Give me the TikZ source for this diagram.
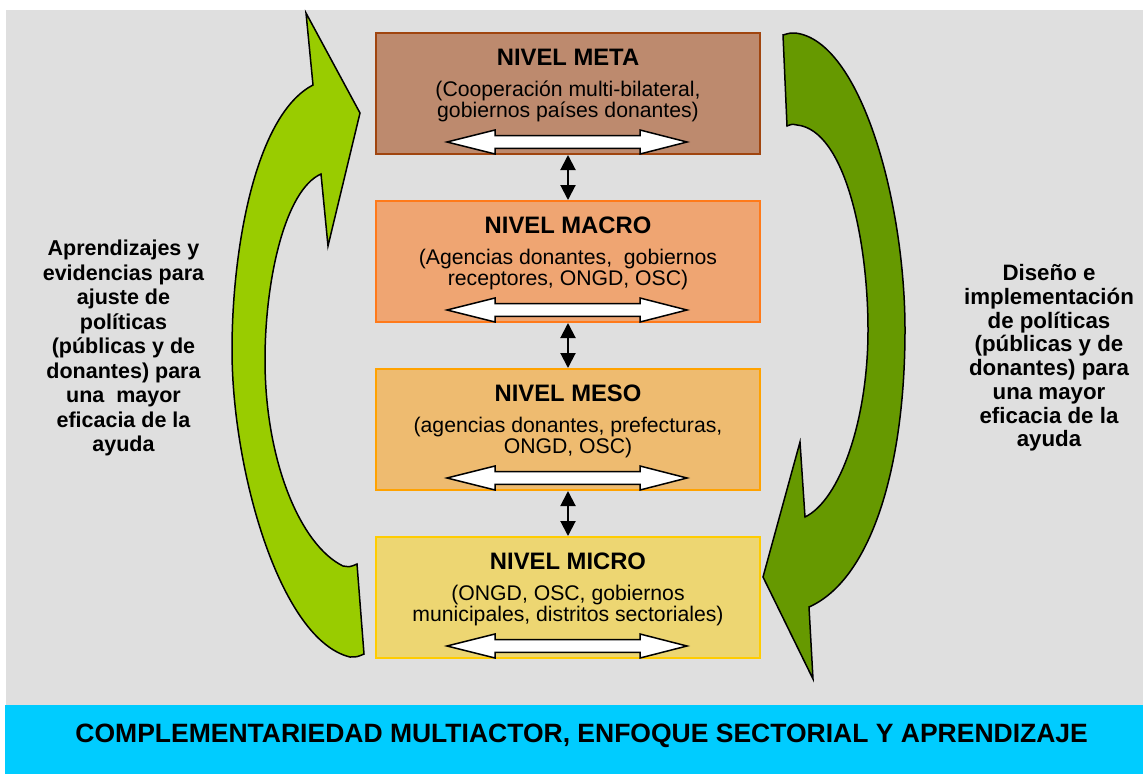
\documentclass[tikz,border=0pt]{standalone}
\usepackage{fontspec}
\setmainfont{Liberation Sans}
\usetikzlibrary{arrows.meta}
\definecolor{bggray}{HTML}{DFDFDF}
\definecolor{bandcyan}{HTML}{00CCFF}
\definecolor{lgreen}{HTML}{99CC00}
\definecolor{dgreen}{HTML}{669900}
\definecolor{metafill}{HTML}{BD8A6E}
\definecolor{metaline}{HTML}{A0450F}
\definecolor{macrofill}{HTML}{EFA572}
\definecolor{macroline}{HTML}{FF7A1A}
\definecolor{mesofill}{HTML}{EEBB70}
\definecolor{mesoline}{HTML}{FFA200}
\definecolor{microfill}{HTML}{EDD672}
\definecolor{microline}{HTML}{FFCC00}
\newcommand{\myfs}[2]{\fontsize{#1}{#2}\selectfont}
\begin{document}
\begin{tikzpicture}[x=1pt,y=-1pt,
  levelbox/.style={draw=#1line,fill=#1fill,line width=2pt,minimum width=384pt,minimum height=121pt,inner sep=0pt},
  ttl/.style={anchor=base,inner sep=0pt,font=\myfs{23.8}{26}\bfseries},
  desc/.style={anchor=base,inner sep=0pt,align=center,font=\myfs{21.2}{20.8}},
  side/.style={anchor=base,inner sep=0pt,align=center,font=\myfs{21.5}{24.5}\bfseries},
  whitearrow/.style={draw=black,fill=white,line width=1.5pt,line join=miter},
  vlink/.style={line width=2pt,{Triangle[length=15pt,width=15pt]}-{Triangle[length=15pt,width=15pt]}},
  bigarrow/.style={draw=black,line width=1.5pt,line join=miter}
]
\useasboundingbox (0,0) rectangle (1143,774);
\fill[white] (0,0) rectangle (1143,774);
\fill[bggray] (6,10) rectangle (1143,705);
\node[fill=bandcyan,minimum width=1138pt,minimum height=69pt,inner sep=0pt] (band) at (574,739.5) {};
\node[anchor=base,inner sep=0pt,font=\myfs{26.5}{30}\bfseries] (bandtext) at (581.7,742.3) {COMPLEMENTARIEDAD MULTIACTOR, ENFOQUE SECTORIAL Y APRENDIZAJE};

% left light green curved arrow
\draw[bigarrow,fill=lgreen] (313,85) -- (306,13) -- (360,113) -- (328,246) -- (321,174)
  .. controls (285,190) and (265,280) .. (265,360)
  .. controls (265,460) and (300,545) .. (343,566)
  .. controls (350,567) .. (357,564)
  -- (364,654)
  .. controls (357,657) .. (350,657)
  .. controls (280,640) and (232,470) .. (232,350)
  .. controls (232,250) and (255,115) .. (313,85) -- cycle;

% right dark green curved arrow
\draw[bigarrow,fill=dgreen] (783,35) -- (787,126)
  .. controls (792,124) .. (797,125)
  .. controls (845,130) and (868,240) .. (868,330)
  .. controls (868,420) and (840,500) .. (805,517)
  -- (800,442) -- (763,577) -- (813,679) -- (809,607)
  .. controls (870,580) and (905,470) .. (905,330)
  .. controls (905,200) and (860,40) .. (795,33)
  .. controls (790,33) .. (783,35) -- cycle;

% level boxes
\node[levelbox=meta]  (meta)  at (568,93.5)  {};
\node[levelbox=macro] (macro) at (568,261.5) {};
\node[levelbox=meso]  (meso)  at (568,429.5) {};
\node[levelbox=micro] (micro) at (568,597.5) {};

% texts (multi-line nodes: base = last line)
\node[ttl]  (metat)  at (568,65.5)  {NIVEL META};
\node[desc] (metad)  at (568,117)   {(Cooperación multi-bilateral,\\gobiernos países donantes)};
\node[ttl]  (macrot) at (568,233.5) {NIVEL MACRO};
\node[desc] (macrod) at (568,285)   {(Agencias donantes,\ \ gobiernos\\receptores, ONGD, OSC)};
\node[ttl]  (mesot)  at (568,401.5) {NIVEL MESO};
\node[desc] (mesod)  at (568,453)   {(agencias donantes, prefecturas,\\ONGD, OSC)};
\node[ttl]  (microt) at (568,569.5) {NIVEL MICRO};
\node[desc] (microd) at (568,621)   {(ONGD, OSC, gobiernos\\municipales, distritos sectoriales)};

% white double arrows inside boxes
\foreach \yy in {142,310,478,646}{
  \draw[whitearrow,shift={(0,\yy)}] (447,0) -- (495,-12) -- (495,-6.3) -- (640,-6.3) -- (640,-12) -- (687,0)
    -- (640,12) -- (640,6.3) -- (495,6.3) -- (495,12) -- cycle;
}

% vertical links
\draw[vlink] (meta.south) -- (macro.north);
\draw[vlink] (macro.south) -- (meso.north);
\draw[vlink] (meso.south) -- (micro.north);

% side texts (base = last line)
\node[side] (lefttext) at (123.5,451.5) {Aprendizajes y\\evidencias para\\ajuste de\\políticas\\(públicas y de\\donantes) para\\una\ \ mayor\\eficacia de la\\ayuda};
\node[side,font=\myfs{22.3}{23.7}\bfseries] (righttext) at (1049,446.7) {Diseño e\\implementación\\de políticas\\(públicas y de\\donantes) para\\una mayor\\eficacia de la\\ayuda};
\end{tikzpicture}
\end{document}
